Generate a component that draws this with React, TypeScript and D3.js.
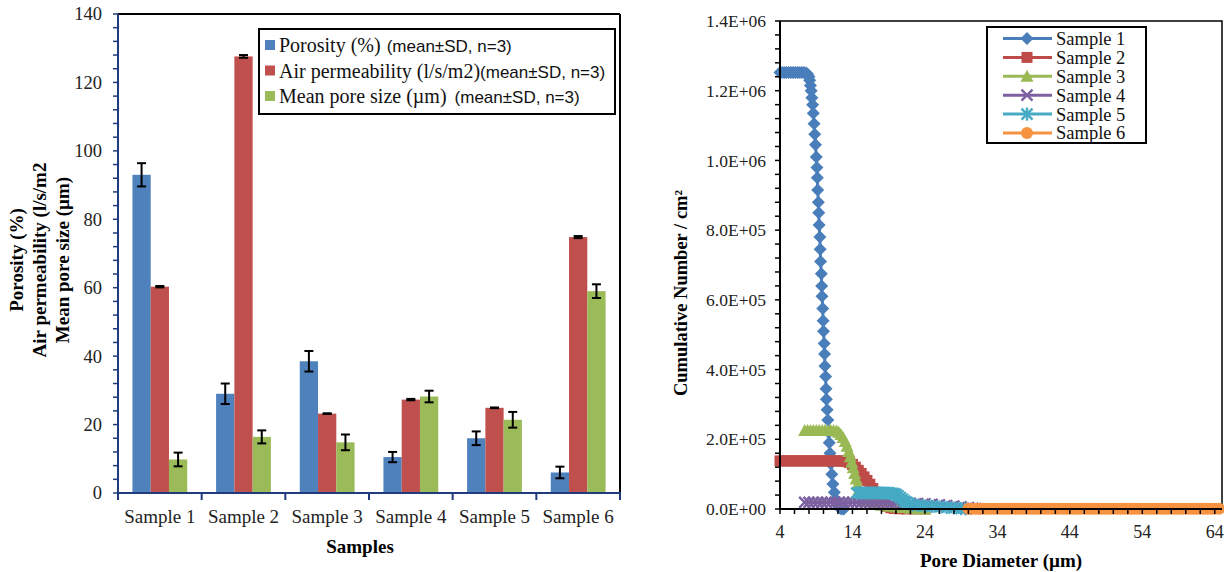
import React from "react";
import * as d3 from "d3";

// ---- left chart data (bar chart with error bars) ----
const samples = ["Sample 1", "Sample 2", "Sample 3", "Sample 4", "Sample 5", "Sample 6"];
const porosity = [93, 29, 38.5, 10.5, 16, 6];
const porositySd = [3.4, 3, 3, 1.5, 2, 1.7];
const airPerm = [60.3, 127.6, 23.2, 27.3, 24.9, 74.8];
const airPermSd = [0.2, 0.4, 0.1, 0.2, 0.1, 0.3];
const poreSize = [9.8, 16.4, 14.8, 28.2, 21.4, 59];
const poreSizeSd = [2, 1.9, 2.3, 1.7, 2.3, 2];
const barLegendMain = ["Porosity (%)", "Air permeability (l/s/m2)", "Mean pore size (µm)"];
const barLegendNote = ["(mean±SD, n=3)", "(mean±SD, n=3)", "(mean±SD, n=3)"];
const barLegendGap = [6, 0, 8];
const barColors = ["#4F81BD", "#C0504D", "#9BBB59"];
const leftYTicks = [0, 20, 40, 60, 80, 100, 120, 140];
const leftYTitle = ["Porosity (%)", "Air permeability (l/s/m2", "Mean pore size (µm)"];

// ---- right chart data (cumulative pore number) ----
const sample1: [number, number][] = [
  [4.0, 1252000], [4.3, 1252000], [4.6, 1252000], [4.9, 1252000], [5.2, 1252000], [5.5, 1252000],
  [5.8, 1252000], [6.1, 1252000], [6.4, 1252000], [6.7, 1252000], [7.0, 1252000], [7.3, 1252000],
  [7.6, 1251000], [7.8, 1248000], [8.0, 1240000], [8.1, 1230000], [8.2, 1215000], [8.3, 1200000],
  [8.4, 1180000], [8.5, 1160000], [8.6, 1135000], [8.7, 1105000], [8.8, 1075000], [8.9, 1045000],
  [9.0, 1010000], [9.1, 980000], [9.15, 950000], [9.2, 915000], [9.3, 880000], [9.35, 850000],
  [9.4, 815000], [9.5, 780000], [9.55, 745000], [9.6, 710000], [9.7, 675000], [9.75, 640000],
  [9.8, 610000], [9.9, 575000], [9.95, 540000], [10.0, 510000], [10.1, 475000], [10.15, 445000],
  [10.2, 410000], [10.3, 380000], [10.35, 345000], [10.4, 315000], [10.5, 285000], [10.6, 255000],
  [10.7, 220000], [10.8, 190000], [10.9, 160000], [11.0, 130000], [11.15, 100000], [11.3, 72000],
  [11.5, 48000], [11.7, 28000], [11.9, 14000], [12.1, 6000], [12.3, 2000], [12.5, 0], [12.8, 0],
];
const sample2: [number, number][] = [
  [4.0, 138000], [4.5, 138000], [5.0, 138000], [5.5, 138000], [6.0, 138000], [6.5, 138000],
  [7.0, 138000], [7.5, 138000], [8.0, 138000], [8.5, 138000], [9.0, 138000], [9.5, 138000],
  [10.0, 138000], [10.5, 138000], [11.0, 138000], [11.5, 138000], [12.0, 138000], [12.5, 137500],
  [12.8, 137000], [13.2, 136000], [13.6, 133000], [14.0, 128000], [14.4, 120000], [14.8, 111000],
  [15.2, 102000], [15.6, 92000], [16.0, 82000], [16.4, 71000], [16.8, 59000], [17.1, 48000],
  [17.4, 38000], [17.7, 28000], [18.0, 20000], [18.4, 13000], [18.8, 7000], [19.3, 3500],
  [19.8, 1500], [20.5, 600], [21.5, 200], [22.5, 0], [24.0, 0],
];
const sample3: [number, number][] = [
  [7.4, 225000], [7.8, 225000], [8.2, 225000], [8.6, 225000], [9.0, 225000], [9.4, 225000],
  [9.8, 225000], [10.2, 225000], [10.6, 225000], [11.0, 225000], [11.4, 225000], [11.8, 224000],
  [12.1, 220000], [12.4, 214000], [12.7, 205000], [13.0, 194000], [13.25, 180000], [13.5, 165000],
  [13.7, 150000], [13.9, 134000], [14.1, 118000], [14.3, 102000], [14.5, 86000], [14.7, 70000],
  [14.9, 56000], [15.1, 44000], [15.4, 34000], [15.8, 26000], [16.3, 20000], [17.0, 15000],
  [18.0, 11000], [19.0, 8000], [20.0, 6000], [21.0, 4000], [22.0, 2500], [23.0, 1000], [24.0, 0],
];
const sample4: [number, number][] = [
  [7.4, 19000], [8.0, 19000], [8.6, 19000], [9.2, 19000], [9.8, 19000], [10.4, 19000],
  [11.0, 19000], [11.6, 19000], [12.2, 19000], [12.8, 19000], [13.4, 19000], [14.0, 19000],
  [14.6, 19000], [15.2, 19000], [15.8, 19000], [16.4, 18500], [17.0, 18500], [17.6, 18000],
  [18.2, 18000], [18.8, 18000], [19.4, 17500], [20.0, 17500], [21.0, 17000], [22.0, 16000],
  [23.0, 15500], [24.0, 15000], [25.0, 13500], [26.0, 12000], [27.0, 10000], [28.0, 8000],
  [29.0, 6000], [30.0, 4000], [30.6, 2000], [31.0, 1000],
];
const sample5: [number, number][] = [
  [14.6, 46000], [15.0, 46000], [15.4, 46000], [15.8, 46000], [16.2, 46000], [16.6, 46000],
  [17.0, 46000], [17.4, 46000], [17.8, 46000], [18.2, 46000], [18.6, 45500], [19.0, 45500],
  [19.4, 45000], [19.7, 44000], [20.0, 42000], [20.3, 38000], [20.6, 33000], [20.9, 28000],
  [21.2, 23000], [21.5, 19000], [21.9, 15500], [22.4, 12500], [23.0, 10500], [24.0, 9000],
  [25.0, 7500], [26.0, 6000], [27.0, 4500], [28.0, 3000], [29.0, 1500], [29.6, 500],
];
const sample6: [number, number][] = [
  [30.0, 1000], [30.5, 1000], [31.0, 1000], [31.5, 1000], [32.0, 1000], [32.5, 1000], [33.0, 1000],
  [33.5, 1000], [34.0, 1000], [34.5, 1000], [35.0, 1000], [35.5, 1000], [36.0, 1000], [36.5, 1000],
  [37.0, 1000], [37.5, 1000], [38.0, 1000], [38.5, 1000], [39.0, 1000], [39.5, 1000], [40.0, 1000],
  [40.5, 1000], [41.0, 1000], [41.5, 1000], [42.0, 1000], [42.5, 1000], [43.0, 1000], [43.5, 1000],
  [44.0, 1000], [44.5, 1000], [45.0, 1000], [45.5, 1000], [46.0, 1000], [46.5, 1000], [47.0, 1000],
  [47.5, 1000], [48.0, 1000], [48.5, 1000], [49.0, 1000], [49.5, 1000], [50.0, 1000], [50.5, 1000],
  [51.0, 1000], [51.5, 1000], [52.0, 1000], [52.5, 1000], [53.0, 1000], [53.5, 1000], [54.0, 1000],
  [54.5, 1000], [55.0, 1000], [55.5, 1000], [56.0, 1000], [56.5, 1000], [57.0, 1000], [57.5, 1000],
  [58.0, 1000], [58.5, 1000], [59.0, 1000], [59.5, 1000], [60.0, 1000], [60.5, 1000], [61.0, 1000],
  [61.5, 1000], [62.0, 1000], [62.5, 1000], [63.0, 1000], [63.5, 1000], [64.0, 1000], [64.6, 1000],
];
const lineSeries = [sample1, sample2, sample3, sample4, sample5, sample6];
const lineNames = ["Sample 1", "Sample 2", "Sample 3", "Sample 4", "Sample 5", "Sample 6"];
const lineColors = ["#4A7EBB", "#BE4B48", "#98B954", "#7D60A0", "#46AAC5", "#F69240"];
const lineMarkers = ["diamond", "square", "triangle", "x", "star", "circle"];
const rightXTicks = [4, 14, 24, 34, 44, 54, 64];
const rightYTicks = [0, 200000, 400000, 600000, 800000, 1000000, 1200000, 1400000];
const rightYTickLabels = ["0.0E+00", "2.0E+05", "4.0E+05", "6.0E+05", "8.0E+05", "1.0E+06", "1.2E+06", "1.4E+06"];

const SERIF = "'Liberation Serif', 'Times New Roman', serif";
const SANS = "'Liberation Sans', Arial, sans-serif";
const NAVY = "#1F3A7D";

function Marker({ shape, x, y, color, s = 1 }: { shape: string; x: number; y: number; color: string; s?: number }) {
  const r = 5.5 * s;
  if (shape === "diamond")
    return <path d={`M${x},${y - r - 1} L${x + r + 1},${y} L${x},${y + r + 1} L${x - r - 1},${y}Z`} fill={color} />;
  if (shape === "square") return <rect x={x - r} y={y - r} width={2 * r} height={2 * r} fill={color} />;
  if (shape === "triangle")
    return <path d={`M${x},${y - r - 1} L${x + r + 1},${y + r} L${x - r - 1},${y + r}Z`} fill={color} />;
  if (shape === "circle") return <circle cx={x} cy={y} r={r + 0.5} fill={color} />;
  const k = r;
  return (
    <g stroke={color} strokeWidth={2.4}>
      <line x1={x - k} y1={y - k} x2={x + k} y2={y + k} />
      <line x1={x - k} y1={y + k} x2={x + k} y2={y - k} />
      {shape === "star" && <line x1={x} y1={y - k - 1} x2={x} y2={y + k + 1} />}
    </g>
  );
}

export default function App() {
  // left chart scales
  const xBand = d3.scaleBand<string>().domain(samples).range([118, 620]).padding(0);
  const bw = xBand.bandwidth();
  const xInner = d3.scaleBand<number>().domain([0, 1, 2]).range([0, bw]).paddingInner(0).paddingOuter(0.79);
  const yL = d3.scaleLinear().domain([0, 140]).range([493, 14]);
  const barValues = [porosity, airPerm, poreSize];
  const barSds = [porositySd, airPermSd, poreSizeSd];
  const leftMinor = d3.range(0, 141, 4);

  // right chart scales
  const xR = d3.scaleLinear().domain([4, 65]).range([780, 1222]);
  const yR = d3.scaleLinear().domain([0, 1400000]).range([509, 21]);
  const line = d3
    .line<[number, number]>()
    .x((d) => xR(d[0]))
    .y((d) => yR(d[1]));
  const xMinor = d3.range(4, 65, 2);
  const yMinor = d3.range(0, 1400001, 40000);

  return (
    <svg width={1224} height={572} style={{ position: "absolute", left: 0, top: 0, background: "#fff" }} fontFamily={SERIF}>
      <rect width={1224} height={572} fill="#fff" />

      {/* ================= LEFT CHART ================= */}
      {barValues.map((vals, si) =>
        samples.map((s, i) => (
          <rect
            key={`b${si}-${i}`}
            x={(xBand(s) as number) + (xInner(si) as number)}
            y={yL(vals[i])}
            width={xInner.bandwidth()}
            height={yL(0) - yL(vals[i])}
            fill={barColors[si]}
          />
        ))
      )}
      {barValues.map((vals, si) =>
        samples.map((s, i) => {
          const cx = (xBand(s) as number) + (xInner(si) as number) + xInner.bandwidth() / 2;
          const t = yL(vals[i] + barSds[si][i]);
          const b = yL(vals[i] - barSds[si][i]);
          return (
            <g key={`e${si}-${i}`} stroke="#000" strokeWidth={2}>
              <line x1={cx} x2={cx} y1={t} y2={b} />
              <line x1={cx - 4.5} x2={cx + 4.5} y1={t} y2={t} />
              <line x1={cx - 4.5} x2={cx + 4.5} y1={b} y2={b} />
            </g>
          );
        })
      )}
      {/* frame */}
      <line x1={118} x2={620} y1={yL(140)} y2={yL(140)} stroke="#000" strokeWidth={2} />
      <line x1={620} x2={620} y1={yL(140)} y2={yL(0)} stroke="#000" strokeWidth={2} />
      {/* y axis */}
      <line x1={118} x2={118} y1={yL(140)} y2={yL(0) + 1} stroke={NAVY} strokeWidth={2} />
      {leftMinor.map((v) => (
        <line key={`lm${v}`} x1={113} x2={118} y1={yL(v)} y2={yL(v)} stroke={NAVY} strokeWidth={1.5} />
      ))}
      {leftYTicks.map((v) => (
        <text key={`lt${v}`} x={102} y={yL(v)} dy="0.35em" textAnchor="end" fontSize={18.5} fill="#222">
          {v}
        </text>
      ))}
      {/* x axis */}
      <line x1={117} x2={621} y1={yL(0)} y2={yL(0)} stroke={NAVY} strokeWidth={2} />
      {[...samples.map((s) => xBand(s) as number), 620].map((x, i) => (
        <line key={`xt${i}`} x1={x} x2={x} y1={yL(0)} y2={yL(0) + 7} stroke={NAVY} strokeWidth={2} />
      ))}
      {samples.map((s) => (
        <text key={`xl${s}`} x={(xBand(s) as number) + bw / 2} y={523} textAnchor="middle" fontSize={19} fill="#222">
          {s}
        </text>
      ))}
      <text x={360} y={553} textAnchor="middle" fontSize={19} fontWeight="bold">
        Samples
      </text>
      {leftYTitle.map((t, i) => (
        <text
          key={`yt${i}`}
          transform={`translate(${16 + i * 23},260) rotate(-90)`}
          textAnchor="middle"
          dy="0.35em"
          fontSize={19}
          fontWeight="bold"
        >
          {t}
        </text>
      ))}
      {/* legend */}
      <rect x={259} y={29} width={356} height={85} fill="#fff" stroke="#000" strokeWidth={2} />
      {barLegendMain.map((t, i) => (
        <g key={`lg${i}`}>
          <rect x={265} y={40 + i * 25.5} width={10} height={10} fill={barColors[i]} />
          <text x={279} y={52 + i * 25.5} fontSize={20} fill="#111">
            {t}
            <tspan dx={barLegendGap[i]} fontFamily={SANS} fontSize={17}>
              {barLegendNote[i]}
            </tspan>
          </text>
        </g>
      ))}

      {/* ================= RIGHT CHART ================= */}
      <rect x={780} y={21} width={442} height={488} fill="none" stroke="#000" strokeWidth={1.5} />
      {lineSeries.map((ser, si) => (
        <g key={`ls${si}`}>
          <path d={line(ser) as string} fill="none" stroke={lineColors[si]} strokeWidth={3} />
          {ser.map((d, j) => (
            <Marker key={j} shape={lineMarkers[si]} x={xR(d[0])} y={yR(d[1])} color={lineColors[si]} />
          ))}
        </g>
      ))}
      {/* axes */}
      <line x1={780} x2={780} y1={21} y2={509} stroke="#000" strokeWidth={2} />
      <line x1={780} x2={1222} y1={509} y2={509} stroke="#000" strokeWidth={2} />
      {yMinor.map((v) => (
        <line key={`ym${v}`} x1={775} x2={780} y1={yR(v)} y2={yR(v)} stroke="#000" strokeWidth={1.5} />
      ))}
      {xMinor.map((v) => (
        <line key={`xm${v}`} x1={xR(v)} x2={xR(v)} y1={509} y2={514} stroke="#000" strokeWidth={1.5} />
      ))}
      {rightYTicks.map((v, i) => (
        <text key={`ry${v}`} x={766} y={yR(v)} dy="0.35em" textAnchor="end" fontSize={17.5} fill="#222">
          {rightYTickLabels[i]}
        </text>
      ))}
      {rightXTicks.map((v) => (
        <text key={`rx${v}`} x={xR(v)} y={538} textAnchor="middle" fontSize={18} fill="#222">
          {v}
        </text>
      ))}
      <text x={1001} y={567} textAnchor="middle" fontSize={19} fontWeight="bold">
        Pore Diameter (µm)
      </text>
      <text transform="translate(681,293) rotate(-90)" textAnchor="middle" dy="0.35em" fontSize={18.5} fontWeight="bold">
        Cumulative Number / cm²
      </text>
      {/* legend */}
      <rect x={987} y={27} width={159} height={116} fill="#fff" stroke="#000" strokeWidth={2} />
      {lineNames.map((n, i) => {
        const y = 38.5 + i * 18.9;
        return (
          <g key={`rl${i}`}>
            <line x1={1003} x2={1052} y1={y} y2={y} stroke={lineColors[i]} strokeWidth={3} />
            <Marker shape={lineMarkers[i]} x={1027} y={y} color={lineColors[i]} />
            <text x={1056} y={y} dy="0.35em" fontSize={18.5} fill="#111">
              {n}
            </text>
          </g>
        );
      })}
    </svg>
  );
}
